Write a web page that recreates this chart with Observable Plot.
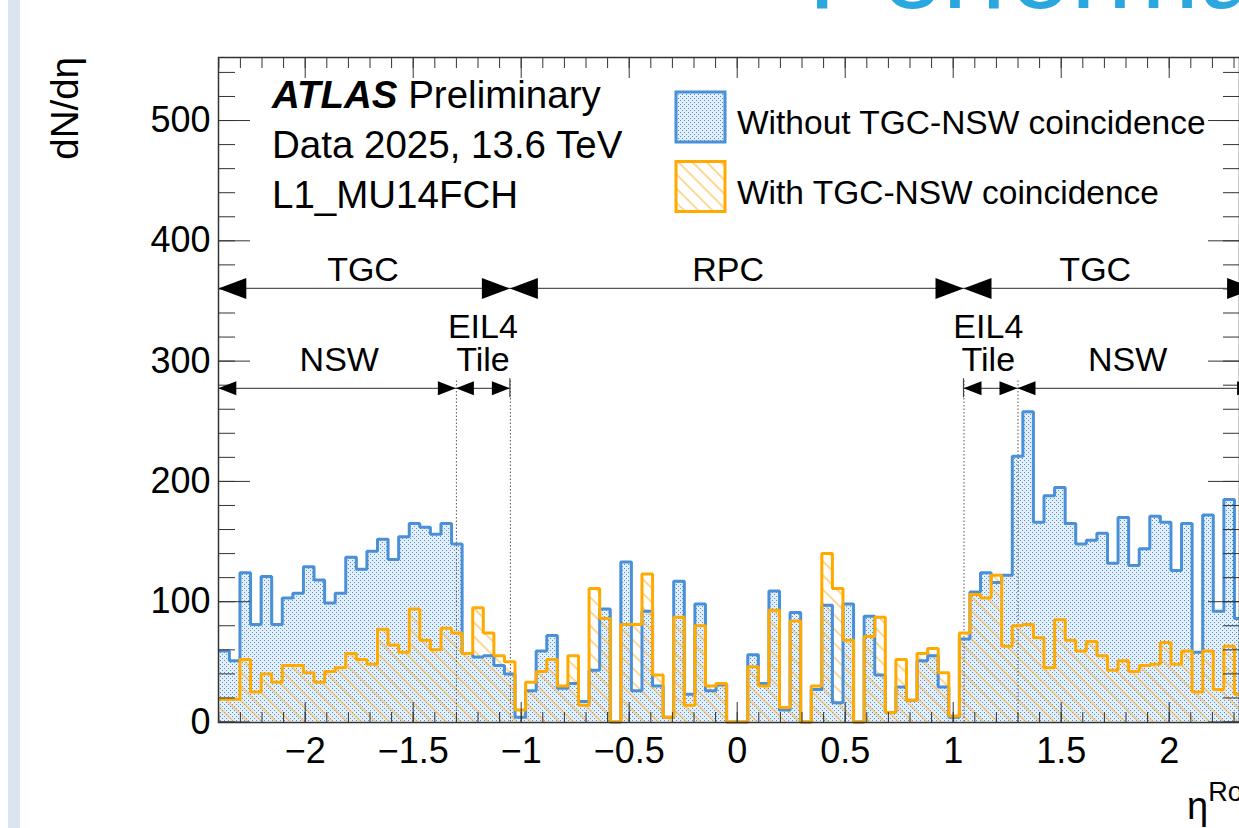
<!DOCTYPE html>
<html><head><meta charset="utf-8">
<script src="https://cdn.jsdelivr.net/npm/d3@7"></script>
<script src="https://cdn.jsdelivr.net/npm/@observablehq/plot@0.6"></script>
<style>html,body{margin:0;padding:0;overflow:hidden;background:#fff;} svg{display:block}</style>
</head><body><div id="chart"></div>
<script>
// ---- binning ----
const etaLow = -2.4, etaHigh = 2.4, nBins = 98;
// ---- series values (dN/deta per bin, from eta = -2.4 upward; visible bins) ----
const withoutCoinc = [59,51,124,81,121,81,103,107,129,118,99,107,137,127,142,152,135,154,165,162,156,165,148,57,54,55,47,40,4,26,
  59,72,28,32,17,43,94,0,133,26,92,30,4,117,23,98,26,31,0,0,56,32,109,10,91,0,27,97,16,98,
  0,88,39,8,29,18,51,55,29,4,69,108,124,116,122,221,258,166,188,195,165,148,151,157,132,170,130,144,171,166,
  126,165,58,172,92,185,86];
const withCoinc = [19,19,52,25,40,33,47,47,41,33,42,45,57,52,48,77,64,58,94,68,60,78,74,57,95,74,55,50,10,33,
  42,52,30,55,14,111,86,0,81,81,123,39,4,87,14,80,30,32,0,0,46,30,93,12,84,0,30,140,111,68,
  0,71,87,8,52,18,57,61,41,5,74,106,103,122,63,80,81,70,45,85,68,59,67,55,43,51,42,47,48,66,
  48,59,25,59,27,63,23];
const seriesNames = ["Without TGC-NSW coincidence", "With TGC-NSW coincidence"];
// ---- tick labels ----
const xMajorTicks = [-2,-1.5,-1,-0.5,0,0.5,1,1.5,2];
const yMajorTicks = [0,100,200,300,400,500];
// ---- detector regions annotation ----
const regionsUpper = [
  {label:["TGC"], from:-2.4, to:-1.05, at:-1.73},
  {label:["RPC"], from:-1.05, to:1.05, at:-0.04},
  {label:["TGC"], from:1.05, to:2.4, at:1.66}];
const regionsLower = [
  {label:["NSW"], from:-2.4, to:-1.3, at:-1.84},
  {label:["EIL4","Tile"], from:-1.3, to:-1.05, at:-1.175},
  {label:["EIL4","Tile"], from:1.05, to:1.3, at:1.165},
  {label:["NSW"], from:1.3, to:2.4, at:1.81}];
const boundaries = [-1.3, -1.05, 1.05, 1.3];
const upperLevel = 360, lowerLevel = 277, boundaryTop = 285;
const infoLines = ["Data 2025, 13.6 TeV", "L1_MU14FCH"];

const FONT = "'Liberation Sans', Arial, Helvetica, sans-serif";
const BLUE = "#4a90d9", ORANGE = "#ffaa00", AX = "#333";
const w = (etaHigh - etaLow) / nBins;
function steps(vals) {
  const pts = vals.map((v, i) => ({x: etaLow + i * w, v}));
  pts.push({x: etaLow + vals.length * w, v: vals[vals.length - 1]});
  return pts;
}
const minorX = d3.range(-24, 25).map(i => i / 10);
const minorY = d3.range(0, 28).map(i => i * 20);
const fmt = d => (d < 0 ? "\u2212" : "") + Math.abs(d);

const chart = Plot.plot({
  width: 1239, height: 828,
  marginLeft: 218, marginRight: 0, marginTop: 57, marginBottom: 106,
  x: {domain: [etaLow, etaHigh], range: [218.3, 1255.1]},
  y: {domain: [0, 552.4], range: [721.5, 57]},
  style: {fontFamily: FONT, background: "#fff", overflow: "hidden", color: "#000"},
  marks: [
    Plot.areaY(steps(withoutCoinc), {x: "x", y: "v", curve: "step-after", fill: "url(#dotsBlue)"}),
    Plot.areaY(steps(withCoinc), {x: "x", y: "v", curve: "step-after", fill: "url(#hatchOrange)"}),
    Plot.ruleX(boundaries, {y1: 0, y2: boundaryTop, stroke: "#555", strokeWidth: 1, strokeDasharray: "1.5,2"}),
    Plot.line(steps(withoutCoinc), {x: "x", y: "v", curve: "step-after", stroke: BLUE, strokeWidth: 3, strokeLinejoin: "miter", strokeLinecap: "butt"}),
    Plot.line(steps(withCoinc), {x: "x", y: "v", curve: "step-after", stroke: ORANGE, strokeWidth: 3, strokeLinejoin: "miter", strokeLinecap: "butt"}),
    Plot.frame({stroke: AX, strokeWidth: 1.5}),
    // ticks (inside the frame)
    Plot.axisX({anchor: "bottom", ticks: minorX, tickSize: -10, tickFormat: () => "", label: null, stroke: AX}),
    Plot.axisX({anchor: "bottom", ticks: xMajorTicks, tickSize: -20, tickFormat: () => "", label: null, stroke: AX}),
    Plot.axisX({anchor: "top", ticks: minorX, tickSize: -10, tickFormat: () => "", label: null, stroke: AX}),
    Plot.axisX({anchor: "top", ticks: xMajorTicks, tickSize: -20, tickFormat: () => "", label: null, stroke: AX}),
    Plot.axisY({anchor: "left", ticks: minorY, tickSize: -17, tickFormat: () => "", label: null, stroke: AX}),
    Plot.axisY({anchor: "left", ticks: yMajorTicks, tickSize: -32, tickFormat: () => "", label: null, stroke: AX}),
    Plot.axisY({anchor: "right", ticks: minorY, tickSize: -17, tickFormat: () => "", label: null, stroke: AX}),
    Plot.axisY({anchor: "right", ticks: yMajorTicks, tickSize: -32, tickFormat: () => "", label: null, stroke: AX}),
    // tick labels
    Plot.axisX({anchor: "bottom", ticks: xMajorTicks, tickSize: 0, tickPadding: 15, fontSize: 36, tickFormat: fmt, label: null}),
    Plot.axisY({anchor: "left", ticks: yMajorTicks, tickSize: 0, tickPadding: 8, fontSize: 36, tickFormat: fmt, label: null})
  ]
});
document.getElementById("chart").appendChild(chart);

const sx = chart.scale("x"), sy = chart.scale("y");
const svg = d3.select(chart);
const defs = svg.insert("defs", ":first-child");
const p1 = defs.append("pattern").attr("id", "dotsBlue").attr("patternUnits", "userSpaceOnUse").attr("width", 4).attr("height", 4);
p1.append("rect").attr("width", 4).attr("height", 4).attr("fill", "#e5effa");
p1.append("rect").attr("x", 0).attr("y", 0).attr("width", 1).attr("height", 1).attr("fill", BLUE);
p1.append("rect").attr("x", 2).attr("y", 2).attr("width", 1).attr("height", 1).attr("fill", BLUE);
const p2 = defs.append("pattern").attr("id", "hatchOrange").attr("patternUnits", "userSpaceOnUse")
  .attr("width", 10).attr("height", 10).attr("patternTransform", "rotate(-45)");
p2.append("line").attr("x1", 5).attr("y1", 0).attr("x2", 5).attr("y2", 10).attr("stroke", "#ffb53a").attr("stroke-width", 1.1);

const g = svg.append("g").attr("font-family", FONT).attr("fill", "#000").attr("text-anchor", "start");

// slide decorations
svg.insert("rect", "defs + *").attr("x", 8).attr("y", 0).attr("width", 12).attr("height", 828).attr("fill", "#dbe5f1");
g.append("text").attr("x", 808).attr("y", 8).attr("font-size", 110).attr("fill", "#2aa7df").text("Performance");

// arrows
function tri(x, y, dir, L, H) {
  return `M${x},${y}L${x - dir * L},${y - H}L${x - dir * L},${y + H}Z`;
}
function drawRegions(regions, level, L, H) {
  const y = sy.apply(level);
  for (const r of regions) {
    const x1 = sx.apply(r.from), x2 = sx.apply(r.to);
    g.append("line").attr("x1", x1).attr("x2", x2).attr("y1", y).attr("y2", y).attr("stroke", "#555").attr("stroke-width", 1.3);
    g.append("path").attr("d", tri(x1, y, -1, L, H)).attr("fill", "#000");
    g.append("path").attr("d", tri(x2, y, 1, L, H)).attr("fill", "#000");
  }
}
drawRegions(regionsUpper, upperLevel, 28, 10.5);
drawRegions(regionsLower, lowerLevel, 18, 7);
for (const b of [-1.05, 1.05]) {
  g.append("line").attr("x1", sx.apply(b)).attr("x2", sx.apply(b)).attr("y1", sy.apply(lowerLevel) - 10).attr("y2", sy.apply(lowerLevel) + 9).attr("stroke", "#444").attr("stroke-width", 1.2);
}
for (const r of regionsUpper) {
  g.append("text").attr("x", sx.apply(r.at)).attr("y", sy.apply(upperLevel) - 7).attr("text-anchor", "middle").attr("font-size", 34).text(r.label[0]);
}
for (const r of regionsLower) {
  const yb = sy.apply(lowerLevel) - 17;
  r.label.forEach((t, i) => {
    g.append("text").attr("x", sx.apply(r.at)).attr("y", yb - (r.label.length - 1 - i) * 33.5).attr("text-anchor", "middle").attr("font-size", 34).text(t);
  });
}

// ATLAS label
const t0 = g.append("text").attr("x", 272).attr("y", 108).attr("font-size", 38.5);
t0.append("tspan").attr("font-weight", "bold").attr("font-style", "italic").text("ATLAS");
t0.append("tspan").text(" Preliminary");
infoLines.forEach((s, i) => g.append("text").attr("x", 272).attr("y", 158 + i * 50).attr("font-size", 38.5).text(s));

// legend
const leg = [{name: seriesNames[0], fill: "url(#dotsBlue)", stroke: BLUE}, {name: seriesNames[1], fill: "url(#hatchOrange)", stroke: ORANGE}];
leg.forEach((d, i) => {
  const y0 = 92 + i * 69.5;
  g.append("rect").attr("x", 676).attr("y", y0).attr("width", 49).attr("height", 50).attr("fill", d.fill).attr("stroke", d.stroke).attr("stroke-width", 3);
  g.append("text").attr("x", 737).attr("y", y0 + 42).attr("font-size", 33.5).text(d.name);
});

// axis titles
g.append("text").attr("transform", "translate(78,57) rotate(-90)").attr("text-anchor", "end").attr("font-size", 38.5).text("dN/d\u03b7");
const xt = g.append("text").attr("x", 1187).attr("y", 819).attr("font-size", 38);
xt.append("tspan").text("\u03b7");
xt.append("tspan").attr("font-size", 27).attr("dy", -18).text("RoI");
</script>
</body></html>
